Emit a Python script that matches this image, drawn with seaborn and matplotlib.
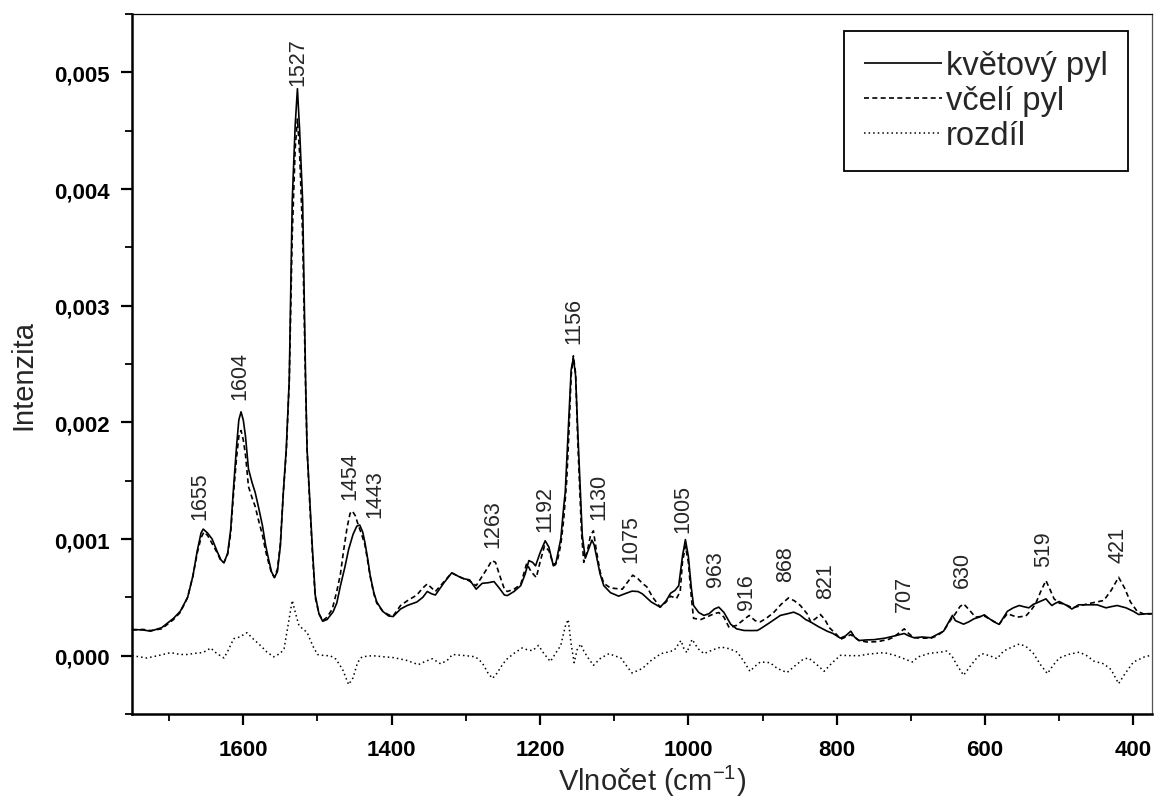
import numpy as np
import pandas as pd
import matplotlib
matplotlib.use("Agg")
import matplotlib.pyplot as plt
from matplotlib.ticker import MultipleLocator, FuncFormatter
from matplotlib.lines import Line2D
import seaborn as sns

# ---------------- data (intensity in units of 1e-3) ----------------
flower_x = [1750, 1735, 1725, 1710, 1694, 1685, 1675, 1668, 1662, 1657, 1654, 1648, 1642, 1635, 1630,
            1626, 1621, 1617, 1613, 1609, 1606, 1603, 1600, 1597, 1593, 1588, 1584, 1579, 1574, 1570,
            1566, 1562, 1558, 1554, 1550, 1546, 1542, 1538, 1534, 1530, 1527, 1524, 1520, 1516, 1514,
            1510, 1507, 1503, 1498, 1493, 1487, 1479, 1474, 1469, 1463, 1458, 1452, 1447, 1443, 1439,
            1436, 1432, 1429, 1424, 1420, 1412, 1404, 1398, 1388, 1379, 1366, 1358, 1352, 1346, 1341,
            1330, 1319, 1310, 1303, 1295, 1286, 1278, 1270, 1262, 1255, 1248, 1244, 1235, 1226, 1220,
            1215, 1210, 1206, 1200, 1193, 1188, 1182, 1179, 1172, 1168, 1166, 1161, 1158, 1155, 1152,
            1149, 1143, 1139, 1134, 1130, 1127, 1124, 1119, 1114, 1105, 1094, 1086, 1076, 1068, 1062,
            1050, 1038, 1030, 1024, 1018, 1013, 1008, 1004, 1000, 996, 993, 986, 979, 972, 965,
            959, 952, 943, 935, 925, 915, 907, 903, 891, 876, 866, 858, 850, 842, 835,
            825, 813, 805, 795, 788, 781, 776, 770, 760, 750, 735, 723, 709, 703, 696,
            685, 673, 665, 656, 648, 644, 640, 629, 622, 615, 608, 601, 595, 588, 581,
            575, 570, 562, 554, 548, 541, 535, 530, 524, 518, 513, 510, 505, 500, 490,
            483, 474, 460, 449, 437, 430, 422, 410, 400, 393, 380, 373]
flower_y = [0.225, 0.22, 0.21, 0.24, 0.32, 0.38, 0.50, 0.68, 0.90, 1.05, 1.085, 1.05, 1.00, 0.89, 0.82,
            0.795, 0.88, 1.08, 1.45, 1.80, 2.02, 2.09, 2.02, 1.88, 1.60, 1.48, 1.40, 1.26, 1.11, 0.95,
            0.83, 0.72, 0.67, 0.72, 0.94, 1.40, 1.78, 2.37, 3.90, 4.55, 4.86, 4.50, 3.90, 2.37, 1.77,
            1.30, 0.94, 0.52, 0.36, 0.295, 0.31, 0.375, 0.45, 0.60, 0.76, 0.91, 1.04, 1.11, 1.12, 1.06,
            0.97, 0.82, 0.69, 0.54, 0.46, 0.38, 0.34, 0.335, 0.40, 0.43, 0.46, 0.50, 0.55, 0.53, 0.52,
            0.62, 0.71, 0.68, 0.66, 0.65, 0.57, 0.62, 0.625, 0.635, 0.58, 0.52, 0.515, 0.55, 0.60, 0.70,
            0.815, 0.80, 0.77, 0.88, 0.985, 0.93, 0.77, 0.78, 1.00, 1.28, 1.40, 2.05, 2.45, 2.55, 2.40,
            1.91, 1.03, 0.835, 0.92, 0.99, 0.95, 0.857, 0.70, 0.60, 0.54, 0.51, 0.53, 0.553, 0.55, 0.53,
            0.46, 0.416, 0.47, 0.535, 0.56, 0.60, 0.85, 0.995, 0.85, 0.58, 0.43, 0.37, 0.345, 0.36, 0.40,
            0.416, 0.37, 0.27, 0.23, 0.216, 0.215, 0.216, 0.23, 0.28, 0.345, 0.36, 0.373, 0.35, 0.31, 0.288,
            0.25, 0.21, 0.19, 0.15, 0.17, 0.21, 0.16, 0.13, 0.135, 0.137, 0.15, 0.168, 0.19, 0.17, 0.154,
            0.16, 0.154, 0.18, 0.21, 0.30, 0.345, 0.30, 0.27, 0.29, 0.316, 0.33, 0.35, 0.32, 0.29, 0.268,
            0.33, 0.38, 0.41, 0.43, 0.42, 0.41, 0.44, 0.453, 0.47, 0.487, 0.45, 0.43, 0.45, 0.464, 0.43,
            0.40, 0.436, 0.436, 0.436, 0.41, 0.42, 0.43, 0.41, 0.38, 0.353, 0.36, 0.36]

bee_x = [1750, 1735, 1725, 1710, 1694, 1685, 1675, 1668, 1662, 1657, 1653, 1648, 1642, 1635, 1630,
         1626, 1621, 1617, 1613, 1609, 1606, 1603, 1600, 1597, 1593, 1588, 1584, 1579, 1574, 1570,
         1566, 1562, 1558, 1554, 1550, 1546, 1542, 1538, 1534, 1530, 1527, 1524, 1520, 1516, 1514,
         1510, 1507, 1503, 1498, 1493, 1487, 1480, 1474, 1469, 1465, 1460, 1456, 1453, 1449, 1445,
         1441, 1436, 1432, 1429, 1424, 1420, 1412, 1404, 1398, 1388, 1379, 1366, 1358, 1352, 1346,
         1341, 1330, 1319, 1310, 1303, 1295, 1286, 1278, 1270, 1265, 1260, 1255, 1248, 1244, 1235,
         1226, 1218, 1212, 1205, 1200, 1194, 1188, 1182, 1177, 1172, 1168, 1164, 1161, 1158, 1155,
         1152, 1149, 1144, 1141, 1136, 1132, 1128, 1124, 1119, 1114, 1105, 1089, 1082, 1075, 1068,
         1062, 1056, 1048, 1038, 1030, 1024, 1016, 1011, 1008, 1004, 1000, 996, 993, 983, 972,
         965, 959, 952, 945, 935, 925, 918, 910, 903, 895, 885, 875, 865, 857, 849,
         840, 835, 828, 822, 816, 810, 800, 795, 788, 781, 770, 759, 745, 730, 723,
         715, 709, 703, 696, 685, 673, 665, 656, 647, 640, 634, 629, 621, 613, 601,
         590, 581, 570, 557, 545, 538, 532, 525, 518, 512, 507, 500, 494, 482, 470,
         462, 450, 440, 430, 420, 412, 404, 395, 385, 373]
bee_y = [0.22, 0.225, 0.215, 0.23, 0.31, 0.37, 0.50, 0.68, 0.88, 1.01, 1.06, 1.03, 0.96, 0.88, 0.81,
         0.80, 0.87, 1.05, 1.40, 1.70, 1.88, 1.93, 1.85, 1.72, 1.45, 1.35, 1.28, 1.15, 1.03, 0.90,
         0.80, 0.71, 0.67, 0.74, 0.96, 1.40, 1.75, 2.35, 3.60, 4.35, 4.60, 4.30, 3.60, 2.30, 1.77,
         1.25, 0.90, 0.50, 0.36, 0.30, 0.33, 0.40, 0.55, 0.70, 0.89, 1.10, 1.22, 1.24, 1.20, 1.12,
         1.05, 0.95, 0.80, 0.68, 0.53, 0.45, 0.38, 0.35, 0.34, 0.43, 0.47, 0.52, 0.58, 0.615, 0.58,
         0.55, 0.63, 0.71, 0.68, 0.66, 0.64, 0.60, 0.68, 0.76, 0.815, 0.80, 0.70, 0.57, 0.55, 0.57,
         0.61, 0.79, 0.72, 0.67, 0.80, 0.94, 0.90, 0.78, 0.80, 0.95, 1.17, 1.50, 1.91, 2.40, 2.57,
         2.42, 1.82, 1.05, 0.80, 0.90, 1.03, 1.07, 0.90, 0.72, 0.62, 0.58, 0.57, 0.63, 0.69, 0.66,
         0.62, 0.59, 0.50, 0.416, 0.46, 0.51, 0.49, 0.55, 0.80, 0.94, 0.80, 0.50, 0.32, 0.31, 0.34,
         0.36, 0.37, 0.33, 0.24, 0.26, 0.31, 0.345, 0.30, 0.29, 0.32, 0.37, 0.44, 0.495, 0.47, 0.43,
         0.36, 0.288, 0.32, 0.353, 0.31, 0.24, 0.18, 0.14, 0.16, 0.18, 0.13, 0.117, 0.12, 0.14, 0.16,
         0.20, 0.23, 0.19, 0.154, 0.15, 0.15, 0.17, 0.21, 0.30, 0.36, 0.42, 0.444, 0.39, 0.33, 0.34,
         0.30, 0.27, 0.36, 0.33, 0.34, 0.39, 0.444, 0.55, 0.644, 0.56, 0.487, 0.45, 0.444, 0.41, 0.43,
         0.444, 0.46, 0.473, 0.56, 0.672, 0.58, 0.46, 0.38, 0.355, 0.36]

diff_x = [1750, 1730, 1715, 1698, 1685, 1676, 1665, 1656, 1650, 1644, 1636, 1626, 1620, 1613, 1605,
          1595, 1586, 1577, 1568, 1559, 1550, 1545, 1540, 1534, 1529, 1525, 1520, 1514, 1506, 1500,
          1490, 1483, 1475, 1466, 1458, 1452, 1446, 1440, 1426, 1410, 1397, 1380, 1364, 1355, 1345,
          1334, 1325, 1318, 1300, 1287, 1278, 1270, 1264, 1258, 1250, 1244, 1235, 1224, 1217, 1210,
          1202, 1195, 1186, 1178, 1172, 1166, 1162, 1158, 1154, 1150, 1145, 1141, 1135, 1128, 1118,
          1107, 1100, 1091, 1083, 1076, 1069, 1062, 1050, 1037, 1028, 1019, 1010, 1006, 1002, 995,
          987, 979, 967, 956, 945, 934, 925, 917, 910, 903, 890, 880, 867, 855, 845,
          838, 828, 817, 806, 795, 780, 770, 755, 736, 720, 708, 698, 690, 675, 660,
          652, 645, 638, 629, 620, 610, 604, 594, 584, 575, 565, 554, 545, 535, 525,
          516, 508, 500, 488, 473, 463, 453, 440, 430, 420, 412, 400, 385, 373]
diff_y = [0.0, -0.02, 0.0, 0.026, 0.01, 0.01, 0.02, 0.026, 0.04, 0.066, 0.02, -0.02, 0.05, 0.145, 0.16,
          0.197, 0.14, 0.088, 0.03, -0.01, 0.02, 0.06, 0.25, 0.473, 0.35, 0.26, 0.23, 0.20, 0.08, 0.01,
          0.0, 0.0, -0.03, -0.12, -0.248, -0.19, -0.06, -0.01, 0.0, -0.01, -0.017, -0.04, -0.077, -0.05, -0.026,
          -0.07, -0.04, 0.01, 0.0, -0.01, -0.06, -0.15, -0.195, -0.15, -0.07, -0.026, 0.02, 0.066, 0.05, 0.043,
          0.088, 0.02, -0.05, 0.03, 0.088, 0.25, 0.31, 0.10, -0.06, 0.05, 0.10, 0.04, -0.02, -0.083, -0.02,
          0.017, 0.0, -0.02, -0.09, -0.148, -0.13, -0.11, -0.04, 0.017, 0.03, 0.046, 0.13, 0.06, 0.026, 0.14,
          0.06, 0.017, 0.05, 0.074, 0.06, 0.03, -0.05, -0.134, -0.09, -0.054, -0.06, -0.11, -0.145, -0.08, -0.03,
          -0.02, -0.07, -0.134, -0.06, 0.003, 0.0, 0.0, 0.015, 0.026, 0.0, -0.03, -0.054, -0.01, 0.02, 0.03,
          0.04, 0.0, -0.08, -0.168, -0.09, -0.01, 0.017, 0.0, -0.026, 0.04, 0.07, 0.10, 0.08, 0.02, -0.08,
          -0.154, -0.08, -0.02, 0.01, 0.03, 0.0, -0.048, -0.07, -0.12, -0.24, -0.16, -0.054, -0.01, 0.008]

series_names = ["květový pyl", "včelí pyl", "rozdíl"]

peak_labels = ["1655", "1604", "1527", "1454", "1443", "1263", "1192", "1156", "1130", "1075",
               "1005", "963", "916", "868", "821", "707", "630", "519", "421"]
peak_label_x = [1658, 1604, 1527, 1456, 1422, 1263, 1194, 1154, 1121, 1077,
                1008, 963, 921, 869, 815, 709, 630, 521, 421]
peak_label_y = [1.17, 2.20, 4.89, 1.34, 1.19, 0.93, 1.07, 2.68, 1.17, 0.80,
                1.06, 0.60, 0.40, 0.64, 0.49, 0.38, 0.59, 0.77, 0.80]

x_ticks = [1600, 1400, 1200, 1000, 800, 600, 400]
y_ticks = [0.000, 0.001, 0.002, 0.003, 0.004, 0.005]

# ---------------- styling ----------------
sns.set_theme(style="ticks")
plt.rcParams["font.family"] = ["Liberation Sans", "DejaVu Sans"]
plt.rcParams["mathtext.default"] = "regular"

df = pd.concat([
    pd.DataFrame({"x": flower_x, "y": np.array(flower_y) * 1e-3, "s": series_names[0]}),
    pd.DataFrame({"x": bee_x, "y": np.array(bee_y) * 1e-3, "s": series_names[1]}),
    pd.DataFrame({"x": diff_x, "y": np.array(diff_y) * 1e-3, "s": series_names[2]}),
])

fig = plt.figure(figsize=(11.55, 8.03), dpi=100)
ax = fig.add_axes([132 / 1155, 1 - 715 / 803, 1020 / 1155, 700 / 803])

styles = [(0, ()), (0, (3, 2)), (0, (1, 2))]
widths = [1.2, 1.2, 1.1]
handles = []
for name, ls, lw in zip(series_names, styles, widths):
    sub = df[df["s"] == name]
    sns.lineplot(data=sub, x="x", y="y", ax=ax, color="black", estimator=None,
                 sort=False, linewidth=lw, linestyle=ls, legend=False)
    handles.append(Line2D([0], [0], color="black", lw=lw, linestyle=ls, label=name))

for lab, lx, ly in zip(peak_labels, peak_label_x, peak_label_y):
    ax.text(lx, ly * 1e-3, lab, rotation=90, ha="center", va="bottom", fontsize=15.5)

ax.set_xlim(1750, 375)
ax.set_ylim(-0.0005, 0.0055)
ax.set_xticks(x_ticks)
ax.set_yticks(y_ticks)
ax.xaxis.set_minor_locator(MultipleLocator(100))
ax.yaxis.set_minor_locator(MultipleLocator(0.0005))
ax.yaxis.set_major_formatter(FuncFormatter(lambda v, p: f"{v:.3f}".replace(".", ",")))
ax.xaxis.set_major_formatter(FuncFormatter(lambda v, p: f"{v:.0f}"))

ax.tick_params(axis="both", which="major", direction="out", length=8, width=1.6,
               labelsize=16, colors="black")
ax.tick_params(axis="x", which="major", pad=10)
ax.tick_params(axis="y", which="major", pad=8)
ax.tick_params(axis="both", which="minor", direction="out", length=5, width=1.3, colors="black")
ax.tick_params(top=False, right=False)
for lbl in ax.get_xticklabels() + ax.get_yticklabels():
    lbl.set_fontweight("bold")

for side in ["left", "bottom"]:
    ax.spines[side].set_linewidth(1.8)
    ax.spines[side].set_color("black")
ax.spines["top"].set_linewidth(0.9)
ax.spines["top"].set_color("black")
ax.spines["right"].set_linewidth(0.9)
ax.spines["right"].set_color("#555555")

ax.set_xlabel("Vlnočet (cm$^{-1}$)", fontsize=21, labelpad=2)
ax.xaxis.label.set_x(0.51)
ax.set_ylabel("Intenzita", fontsize=21, labelpad=12)
ax.yaxis.label.set_y(0.485)

leg = ax.legend(handles=handles, loc="upper right", bbox_to_anchor=(0.976, 0.976),
                borderaxespad=0, fontsize=23.5, frameon=True, fancybox=False, shadow=False,
                handlelength=2.4, handletextpad=0.12, labelspacing=0.12, borderpad=0.6)
leg.get_frame().set_edgecolor("black")
leg.get_frame().set_linewidth(1.3)
leg.get_frame().set_facecolor("white")
leg.get_frame().set_alpha(1)

fig.savefig("out.png", dpi=100)
